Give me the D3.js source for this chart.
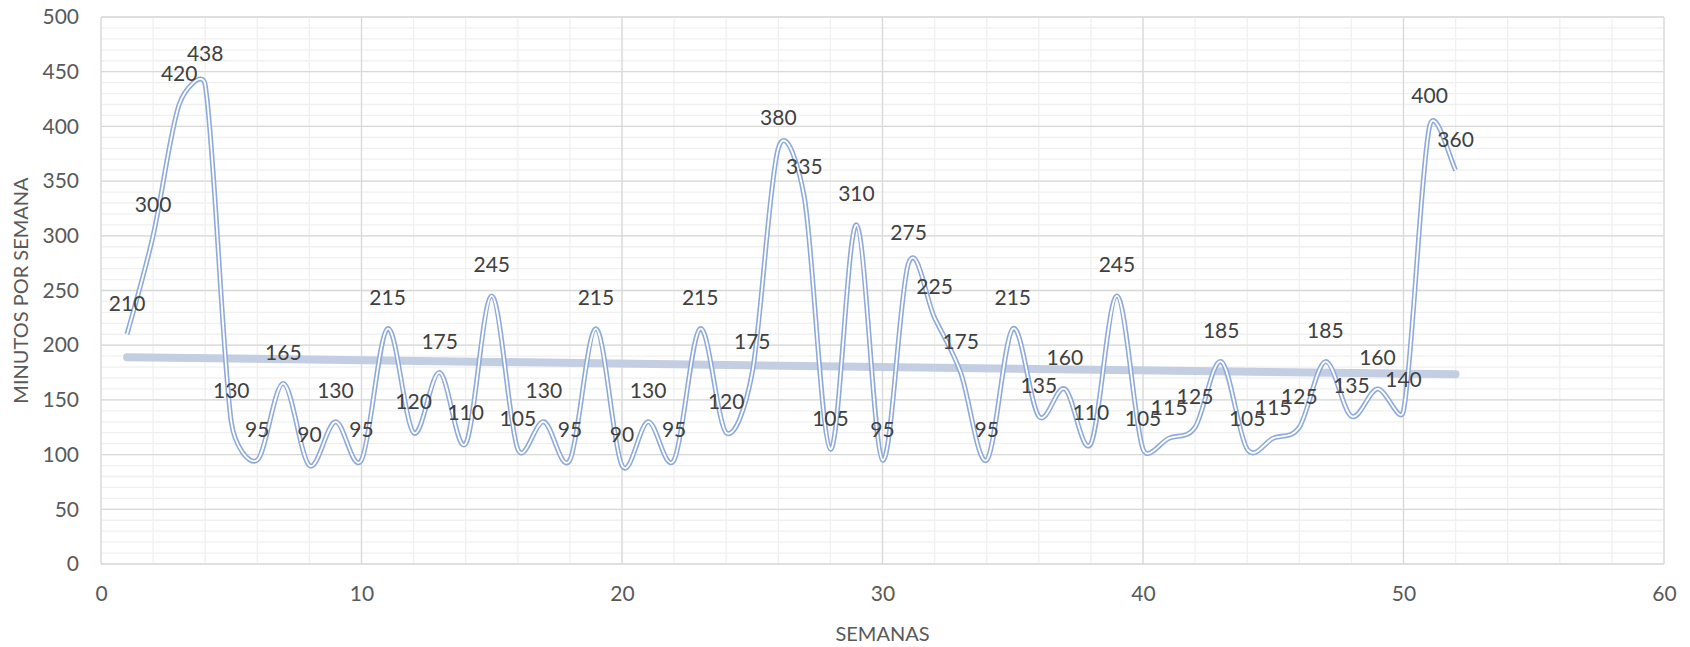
<!DOCTYPE html>
<html>
<head>
<meta charset="utf-8">
<script src="https://cdn.jsdelivr.net/npm/d3@7"></script>
<style>
  body { margin: 0; background: #fff; }
  text { font-family: Lato, "Open Sans", sans-serif; }
</style>
</head>
<body>
<div id="chart"></div>
<script>
// minutes per week, weeks 1..52
let semanas = d3.range(1, 53)
let minutos = [210, 300, 420, 438, 130, 95, 165, 90, 130, 95,
               215, 120, 175, 110, 245, 105, 130, 95, 215, 90,
               130, 95, 215, 120, 175, 380, 335, 105, 310, 95,
               275, 225, 175, 95, 215, 135, 160, 110, 245, 105,
               115, 125, 185, 105, 115, 125, 185, 135, 160, 140,
               400, 360]
let xTicks = [0, 10, 20, 30, 40, 50, 60]
let yTicks = [0, 50, 100, 150, 200, 250, 300, 350, 400, 450, 500]

let data = semanas.map((s, i) => ({x: s, y: minutos[i]}))

let width = 1690, height = 647
let margin = {top: 17, right: 26, bottom: 83, left: 101}

let svg = d3.select('#chart').append('svg')
  .attr('width', width).attr('height', height)

let x = d3.scaleLinear().domain([0, 60]).range([margin.left, width - margin.right])
let y = d3.scaleLinear().domain([0, 500]).range([height - margin.bottom, margin.top])

// minor grid
let grid = svg.append('g')
grid.selectAll('line.vmin').data(d3.range(0, 61, 2)).enter().append('line')
  .attr('x1', d => x(d)).attr('x2', d => x(d))
  .attr('y1', y(0)).attr('y2', y(500))
  .attr('stroke', '#f0f0f0').attr('stroke-width', 1.3)
grid.selectAll('line.hmin').data(d3.range(0, 501, 10)).enter().append('line')
  .attr('y1', d => y(d)).attr('y2', d => y(d))
  .attr('x1', x(0)).attr('x2', x(60))
  .attr('stroke', '#f0f0f0').attr('stroke-width', 1.3)
// major grid
grid.selectAll('line.vmaj').data(xTicks).enter().append('line')
  .attr('x1', d => x(d)).attr('x2', d => x(d))
  .attr('y1', y(0)).attr('y2', y(500))
  .attr('stroke', '#d9d9d9').attr('stroke-width', 1.3)
grid.selectAll('line.hmaj').data(yTicks).enter().append('line')
  .attr('y1', d => y(d)).attr('y2', d => y(d))
  .attr('x1', x(0)).attr('x2', x(60))
  .attr('stroke', '#d9d9d9').attr('stroke-width', 1.3)

// axes (labels only)
let xAxis = svg.append('g').attr('transform', `translate(0,${y(0)})`)
  .call(d3.axisBottom(x).tickValues(xTicks).tickSize(0).tickPadding(22))
let yAxis = svg.append('g').attr('transform', `translate(${x(0)},0)`)
  .call(d3.axisLeft(y).tickValues(yTicks).tickSize(0).tickPadding(22))
;[xAxis, yAxis].forEach(a => {
  a.select('.domain').remove()
  a.selectAll('text').attr('font-size', 21).attr('fill', '#595959')
    .style('font-family', 'Lato, "Open Sans", sans-serif')
})

// trend line (least squares)
let mx = d3.mean(data, d => d.x), my = d3.mean(data, d => d.y)
let slope = d3.sum(data, d => (d.x - mx) * (d.y - my)) / d3.sum(data, d => (d.x - mx) ** 2)
let icpt = my - slope * mx
let x0 = d3.min(semanas), x1 = d3.max(semanas)
svg.append('line')
  .attr('x1', x(x0)).attr('y1', y(icpt + slope * x0))
  .attr('x2', x(x1)).attr('y2', y(icpt + slope * x1))
  .attr('stroke', '#c3cee3').attr('stroke-width', 8).attr('stroke-linecap', 'round')

// excel-like smoothing: bezier, control arms 1/6 of neighbour chord, capped at half the segment
function smoothPath(pts) {
  let p = d3.path()
  let dist = (a, b) => Math.hypot(b[0] - a[0], b[1] - a[1])
  p.moveTo(pts[0][0], pts[0][1])
  for (let i = 0; i < pts.length - 1; i++) {
    let p0 = pts[Math.max(i - 1, 0)], p1 = pts[i], p2 = pts[i + 1], p3 = pts[Math.min(i + 2, pts.length - 1)]
    let d12 = dist(p1, p2), d02 = dist(p0, p2), d13 = dist(p1, p3)
    let f1 = d02 > 0 ? Math.min(1 / 6, d12 / (2 * d02)) : 0
    let f2 = d13 > 0 ? Math.min(1 / 6, d12 / (2 * d13)) : 0
    p.bezierCurveTo(
      p1[0] + (p2[0] - p0[0]) * f1, p1[1] + (p2[1] - p0[1]) * f1,
      p2[0] - (p3[0] - p1[0]) * f2, p2[1] - (p3[1] - p1[1]) * f2,
      p2[0], p2[1])
  }
  return p.toString()
}
let pts = data.map(d => [x(d.x), y(d.y)])
svg.append('path').attr('d', smoothPath(pts))
  .attr('fill', 'none').attr('stroke', '#8eaadb').attr('stroke-width', 5)
svg.append('path').attr('d', smoothPath(pts))
  .attr('fill', 'none').attr('stroke', '#fff').attr('stroke-width', 1.8)

// data labels
svg.append('g').selectAll('text').data(data).enter().append('text')
  .attr('x', d => x(d.x)).attr('y', d => y(d.y) - 32)
  .attr('text-anchor', 'middle').attr('dominant-baseline', 'central')
  .attr('font-size', 21).attr('fill', '#404040')
  .text(d => d.y)

// axis titles
svg.append('text')
  .attr('x', (x(0) + x(60)) / 2).attr('y', 633)
  .attr('text-anchor', 'middle').attr('dominant-baseline', 'central')
  .attr('font-size', 20).attr('fill', '#595959')
  .text('SEMANAS')
svg.append('text')
  .attr('transform', `translate(20,${(y(0) + y(500)) / 2}) rotate(-90)`)
  .attr('text-anchor', 'middle').attr('dominant-baseline', 'central')
  .attr('font-size', 20).attr('fill', '#595959')
  .text('MINUTOS POR SEMANA')
</script>
</body>
</html>
